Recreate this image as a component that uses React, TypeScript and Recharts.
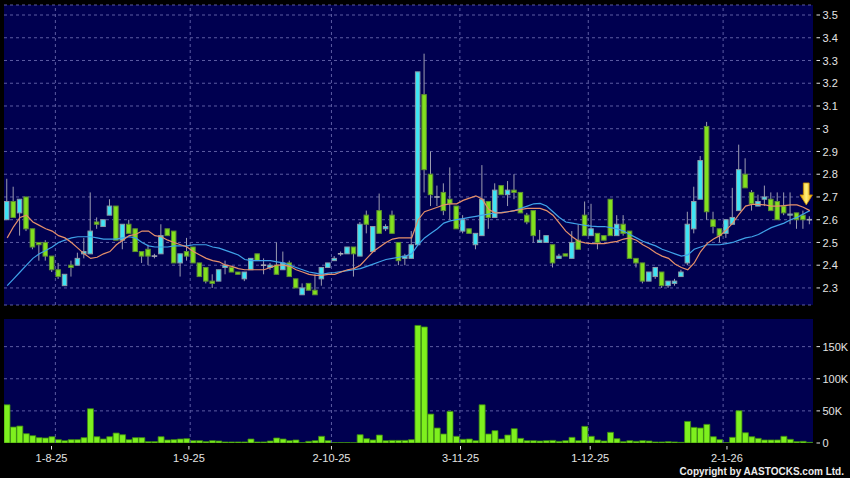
import React from "react";
import {
  Bar,
  CartesianGrid,
  ComposedChart,
  Line,
  ReferenceDot,
  ReferenceLine,
  XAxis,
  YAxis,
} from "recharts";

// daily candles, oldest first (late Jul 2025 -> Jan 2026)
const opens = [
  2.60, 2.68, 2.63, 2.70, 2.56, 2.50, 2.50, 2.44, 2.38, 2.31,
  2.40, 2.40, 2.45, 2.45, 2.59, 2.57, 2.62, 2.66, 2.51, 2.58,
  2.56, 2.46, 2.47, 2.44, 2.45, 2.56, 2.55, 2.41, 2.46, 2.48,
  2.41, 2.39, 2.33, 2.33, 2.39, 2.39, 2.37, 2.34, 2.38, 2.45,
  2.40, 2.39, 2.40, 2.38, 2.41, 2.34, 2.27, 2.32, 2.29, 2.34,
  2.39, 2.42, 2.45, 2.45, 2.48, 2.44, 2.62, 2.46, 2.64, 2.56,
  2.62, 2.50, 2.43, 2.43, 2.49, 3.15, 2.80, 2.70, 2.72, 2.69,
  2.66, 2.55, 2.56, 2.49, 2.53, 2.68, 2.61, 2.75, 2.71, 2.73,
  2.72, 2.62, 2.64, 2.50, 2.50, 2.49, 2.43, 2.45, 2.43, 2.51,
  2.62, 2.53, 2.54, 2.53, 2.69, 2.53, 2.58, 2.55, 2.43, 2.41,
  2.33, 2.35, 2.37, 2.31, 2.32, 2.35, 2.41, 2.56, 2.69, 3.01,
  2.60, 2.56, 2.54, 2.58, 2.64, 2.80, 2.72, 2.66, 2.69, 2.69,
  2.68, 2.66, 2.62, 2.63, 2.62, 2.60,
];
const highs = [
  2.78, 2.745, 2.69, 2.70, 2.56, 2.50, 2.51, 2.44, 2.41, 2.36,
  2.42, 2.455, 2.52, 2.72, 2.61, 2.60, 2.69, 2.66, 2.58, 2.60,
  2.56, 2.46, 2.49, 2.45, 2.58, 2.56, 2.55, 2.45, 2.52, 2.48,
  2.41, 2.39, 2.36, 2.38, 2.42, 2.39, 2.37, 2.37, 2.43, 2.45,
  2.43, 2.41, 2.50, 2.46, 2.42, 2.34, 2.32, 2.32, 2.36, 2.39,
  2.41, 2.44, 2.46, 2.48, 2.48, 2.59, 2.64, 2.57, 2.715, 2.58,
  2.64, 2.50, 2.45, 2.55, 3.25, 3.33, 2.90, 2.75, 2.76, 2.83,
  2.66, 2.62, 2.56, 2.54, 2.84, 2.68, 2.76, 2.75, 2.77, 2.80,
  2.72, 2.63, 2.64, 2.555, 2.53, 2.49, 2.45, 2.45, 2.55, 2.58,
  2.68, 2.67, 2.54, 2.53, 2.69, 2.62, 2.62, 2.55, 2.43, 2.41,
  2.37, 2.39, 2.37, 2.33, 2.34, 2.38, 2.635, 2.745, 2.88, 3.03,
  2.635, 2.56, 2.60, 2.74, 2.93, 2.87, 2.73, 2.71, 2.75, 2.72,
  2.72, 2.72, 2.72, 2.63, 2.64, 2.615,
];
const lows = [
  2.60, 2.61, 2.53, 2.55, 2.47, 2.42, 2.42, 2.37, 2.34, 2.31,
  2.35, 2.40, 2.43, 2.45, 2.56, 2.57, 2.62, 2.51, 2.47, 2.54,
  2.46, 2.41, 2.40, 2.43, 2.45, 2.53, 2.41, 2.35, 2.42, 2.41,
  2.35, 2.32, 2.30, 2.33, 2.36, 2.37, 2.36, 2.33, 2.38, 2.42,
  2.36, 2.38, 2.36, 2.38, 2.35, 2.30, 2.27, 2.29, 2.27, 2.31,
  2.39, 2.42, 2.44, 2.45, 2.35, 2.44, 2.54, 2.46, 2.54, 2.55,
  2.54, 2.40, 2.40, 2.43, 2.49, 2.72, 2.66, 2.66, 2.62, 2.60,
  2.56, 2.54, 2.54, 2.47, 2.53, 2.56, 2.61, 2.71, 2.66, 2.69,
  2.63, 2.58, 2.50, 2.50, 2.50, 2.39, 2.43, 2.44, 2.43, 2.47,
  2.53, 2.53, 2.47, 2.51, 2.53, 2.53, 2.53, 2.43, 2.39, 2.32,
  2.33, 2.34, 2.30, 2.30, 2.31, 2.35, 2.40, 2.54, 2.69, 2.60,
  2.54, 2.50, 2.52, 2.58, 2.64, 2.74, 2.64, 2.66, 2.66, 2.64,
  2.60, 2.62, 2.58, 2.56, 2.56, 2.58,
];
const closes = [
  2.68, 2.61, 2.69, 2.56, 2.48, 2.49, 2.44, 2.38, 2.35, 2.36,
  2.39, 2.43, 2.46, 2.55, 2.58, 2.60, 2.66, 2.51, 2.58, 2.54,
  2.46, 2.44, 2.44, 2.44, 2.53, 2.53, 2.41, 2.45, 2.44, 2.41,
  2.35, 2.33, 2.32, 2.38, 2.40, 2.37, 2.36, 2.37, 2.43, 2.42,
  2.40, 2.40, 2.36, 2.41, 2.35, 2.30, 2.30, 2.29, 2.27, 2.39,
  2.41, 2.43, 2.45, 2.48, 2.45, 2.58, 2.58, 2.57, 2.54, 2.57,
  2.54, 2.42, 2.44, 2.49, 3.25, 2.82, 2.71, 2.70, 2.64, 2.67,
  2.56, 2.60, 2.54, 2.54, 2.69, 2.61, 2.73, 2.71, 2.73, 2.72,
  2.63, 2.59, 2.53, 2.51, 2.53, 2.41, 2.44, 2.44, 2.50, 2.47,
  2.53, 2.56, 2.50, 2.51, 2.53, 2.58, 2.54, 2.43, 2.41, 2.33,
  2.37, 2.39, 2.31, 2.33, 2.33, 2.37, 2.58, 2.68, 2.86, 2.635,
  2.57, 2.53, 2.60, 2.61, 2.82, 2.74, 2.67, 2.68, 2.70, 2.64,
  2.60, 2.63, 2.625, 2.60, 2.60, 2.60,
];
// volume in thousands of shares
const vols = [
  59.5, 24.8, 26.4, 14.5, 11.4, 8.3, 7.8, 9.8, 5.2, 3.6,
  5.2, 5.2, 8.3, 53.3, 9.8, 6.2, 9.8, 15.5, 12.9, 5.2,
  8.3, 8.3, 2.1, 2.1, 9.8, 4.7, 5.2, 6.2, 6.7, 3.6,
  3.6, 2.1, 3.6, 3.1, 1.6, 1.6, 1.6, 1.6, 6.2, 1.6,
  1.6, 3.1, 7.8, 6.2, 3.6, 4.7, 0.5, 2.6, 3.6, 10.4,
  3.6, 0.5, 0.5, 0.5, 0.3, 12.9, 6.7, 4.7, 12.4, 3.6,
  4.1, 4.1, 4.1, 5.2, 183, 180.6, 45, 23.3, 14, 49.2,
  10.4, 5.7, 6.2, 3.6, 59.5, 14, 19.2, 6.2, 12.4, 22.3,
  7.2, 3.6, 3.6, 3.1, 3.6, 4.1, 2.6, 3.6, 8.8, 3.6,
  25.9, 10.4, 4.7, 3.1, 16.6, 6.7, 2.1, 3.6, 2.6, 3.6,
  3.1, 1.6, 1.6, 2.1, 1.6, 1.0, 33.6, 24.3, 23.3, 29,
  9.8, 5.2, 0.5, 8.8, 50.2, 16, 9.8, 7.2, 4.7, 4.7,
  4.7, 10.4, 5.7, 2.1, 2.6, 1.0,
];
// moving averages as drawn (orange = 10 day, blue = 20 day)
const ma10 = [
  2.52, 2.57, 2.61, 2.62, 2.59, 2.575, 2.56, 2.55, 2.53, 2.52,
  2.50, 2.475, 2.45, 2.43, 2.435, 2.45, 2.46, 2.49, 2.51, 2.53,
  2.535, 2.55, 2.55, 2.53, 2.525, 2.51, 2.50, 2.49, 2.48, 2.46,
  2.445, 2.43, 2.42, 2.415, 2.40, 2.395, 2.385, 2.38, 2.38, 2.38,
  2.38, 2.39, 2.40, 2.40, 2.395, 2.38, 2.37, 2.36, 2.355, 2.355,
  2.36, 2.36, 2.37, 2.38, 2.385, 2.40, 2.43, 2.46, 2.48, 2.50,
  2.515, 2.52, 2.52, 2.52, 2.60, 2.635, 2.645, 2.655, 2.665, 2.67,
  2.67, 2.685, 2.695, 2.705, 2.69, 2.645, 2.63, 2.63, 2.635, 2.64,
  2.645, 2.65, 2.65, 2.65, 2.64, 2.62, 2.585, 2.55, 2.525, 2.505,
  2.498, 2.495, 2.495, 2.495, 2.50, 2.505, 2.515, 2.52, 2.51, 2.49,
  2.475, 2.455, 2.44, 2.43, 2.405, 2.39, 2.38, 2.41, 2.46, 2.495,
  2.515, 2.53, 2.555, 2.585, 2.625, 2.66, 2.667, 2.667, 2.665, 2.66,
  2.66, 2.662, 2.665, 2.665, 2.655, 2.64,
];
const ma20 = [
  2.31, 2.34, 2.37, 2.40, 2.43, 2.45, 2.465, 2.48, 2.50, 2.51,
  2.52, 2.525, 2.525, 2.525, 2.52, 2.515, 2.515, 2.515, 2.52, 2.525,
  2.52, 2.50, 2.485, 2.48, 2.48, 2.48, 2.485, 2.485, 2.485, 2.49,
  2.49, 2.49, 2.48, 2.475, 2.465, 2.455, 2.445, 2.425, 2.42, 2.42,
  2.42, 2.42, 2.415, 2.41, 2.40, 2.39, 2.38, 2.37, 2.365, 2.36,
  2.365, 2.368, 2.372, 2.376, 2.38, 2.385, 2.395, 2.405, 2.415, 2.425,
  2.43, 2.435, 2.44, 2.45, 2.49, 2.52, 2.54, 2.56, 2.585, 2.595,
  2.60, 2.605, 2.61, 2.615, 2.62, 2.625, 2.63, 2.632, 2.635, 2.64,
  2.65, 2.66, 2.67, 2.672, 2.66, 2.635, 2.61, 2.59, 2.585, 2.58,
  2.575, 2.572, 2.57, 2.57, 2.565, 2.56, 2.55, 2.535, 2.52, 2.505,
  2.495, 2.485, 2.47, 2.46, 2.45, 2.44, 2.445, 2.47, 2.48, 2.49,
  2.49, 2.49, 2.495, 2.50, 2.51, 2.52, 2.525, 2.535, 2.55, 2.565,
  2.575, 2.585, 2.60, 2.61, 2.625, 2.64,
];

const priceTicks = [2.3, 2.4, 2.5, 2.6, 2.7, 2.8, 2.9, 3.0, 3.1, 3.2, 3.3, 3.4, 3.5];
const volTicks = [0, 50, 100, 150];
const monthLabels = ["1-8-25", "1-9-25", "2-10-25", "3-11-25", "1-12-25", "2-1-26"];
const monthLabelAt = [6.9, 28.3, 50.5, 70.6, 90.8, 112.1];
const monthGridAt = [7.5, 28.5, 50.5, 70.5, 90.5, 111.5];

const rows = opens.map((open, i) => ({
  i,
  open,
  high: highs[i],
  low: lows[i],
  close: closes[i],
  vol: vols[i],
  ma10: ma10[i],
  ma20: ma20[i],
}));

const NAVY = "#000050";
const GRID = "#5c5ca2";
const TEXT = "#e4e4e4";
const FONT = "'Liberation Sans', Arial, sans-serif";
const X_DOMAIN: [number, number] = [-0.5, opens.length - 0.5];

function Candle(props: any) {
  const { x, y, width, height, payload } = props;
  if (!payload) return null;
  const { open, close, high, low } = payload;
  const top = height < 0 ? y + height : y;
  const h = Math.abs(height);
  const k = h / (high - low || 1);
  const cx = x + width / 2;
  const at = (v: number) => top + (high - v) * k;
  const bTop = at(Math.max(open, close));
  const bBot = at(Math.min(open, close));
  const up = close > open;
  return (
    <g>
      <line x1={cx} x2={cx} y1={top} y2={top + h} stroke="#9c9cb0" strokeWidth={1} />
      {close === open ? (
        <line x1={x} x2={x + width} y1={bTop} y2={bTop} stroke="#a8a8b4" strokeWidth={1.6} />
      ) : (
        <rect
          x={x + 0.5}
          y={bTop}
          width={width - 1}
          height={Math.max(bBot - bTop, 1)}
          fill={up ? "#3ee4f4" : "#82e01e"}
          stroke={up ? "#8c9ca8" : "#5e9032"}
          strokeWidth={1}
        />
      )}
    </g>
  );
}

function RightTick({ x, y, payload, vol }: any) {
  const v = payload.value;
  const label = vol ? (v === 0 ? "0" : `${v}K`) : String(v);
  return (
    <g>
      <line x1={x + 3.5} x2={x + 7} y1={y} y2={y} stroke={TEXT} strokeWidth={1} />
      <text x={x + 9.5} y={y + 4.2} fill={TEXT} fontSize={11} fontFamily={FONT}>
        {label}
      </text>
    </g>
  );
}

function DateTick({ x, y, payload }: any) {
  const idx = monthLabelAt.indexOf(payload.value);
  return (
    <g>
      <line x1={x} x2={x} y1={y + 3} y2={y + 6.5} stroke={TEXT} strokeWidth={1} />
      <text x={x} y={y + 18.5} textAnchor="middle" fill={TEXT} fontSize={11} fontFamily={FONT}>
        {monthLabels[idx] ?? ""}
      </text>
    </g>
  );
}

function Arrow({ cx, cy }: any) {
  if (cx == null || cy == null) return null;
  const path = `M${cx - 2.9},${cy - 22} L${cx + 2.9},${cy - 22} L${cx + 2.9},${cy - 10} L${cx + 6.2},${cy - 10} L${cx},${cy} L${cx - 6.2},${cy - 10} L${cx - 2.9},${cy - 10} Z`;
  return (
    <g>
      <defs>
        <linearGradient id="arrowFill" x1="0" x2="1" y1="0" y2="0">
          <stop offset="0" stopColor="#e8a400" />
          <stop offset="0.5" stopColor="#fff07a" />
          <stop offset="1" stopColor="#e8a400" />
        </linearGradient>
      </defs>
      <path d={path} fill="url(#arrowFill)" stroke="#c88a00" strokeWidth={0.8} />
    </g>
  );
}

export default function App() {
  return (
    <div
      style={{
        position: "absolute",
        left: 0,
        top: 0,
        width: 850,
        height: 478,
        background: "#000",
        overflow: "hidden",
      }}
    >
      <div style={{ position: "absolute", left: 0, top: 0 }}>
        <ComposedChart width={850} height={310} data={rows} margin={{ top: 5, right: 0, bottom: 5, left: 4 }}>
          <CartesianGrid vertical={false} fill={NAVY} stroke={GRID} strokeDasharray="3 3" />
          <XAxis type="number" dataKey="i" domain={X_DOMAIN} hide allowDataOverflow />
          <YAxis
            orientation="right"
            width={37}
            domain={[2.225, 3.544]}
            ticks={priceTicks}
            interval={0}
            axisLine={false}
            tickLine={false}
            tickSize={0}
            tickMargin={0}
            allowDataOverflow
            tick={<RightTick />}
          />
          {monthGridAt.map((g) => (
            <ReferenceLine key={g} x={g} stroke={GRID} strokeDasharray="3 3" />
          ))}
          <Bar
            dataKey={(d: any) => [d.low, d.high]}
            barSize={5.5}
            shape={<Candle />}
            isAnimationActive={false}
          />
          <Line type="linear" dataKey="ma20" stroke="#3fa2e8" strokeWidth={1.2} dot={false} isAnimationActive={false} />
          <Line type="linear" dataKey="ma10" stroke="#e6906a" strokeWidth={1.2} dot={false} isAnimationActive={false} />
          <ReferenceDot x={124.45} y={2.665} r={0} shape={<Arrow />} ifOverflow="visible" />
        </ComposedChart>
      </div>
      <div style={{ position: "absolute", left: 0, top: 310 }}>
        <ComposedChart width={850} height={168} data={rows} margin={{ top: 9, right: 0, bottom: 0, left: 4 }}>
          <CartesianGrid vertical={false} fill={NAVY} stroke={GRID} strokeDasharray="3 3" horizontalValues={[50, 100, 150]} />
          <XAxis
            type="number"
            dataKey="i"
            domain={X_DOMAIN}
            ticks={monthLabelAt}
            interval={0}
            height={35}
            axisLine={false}
            tickLine={false}
            tickSize={0}
            tickMargin={0}
            allowDataOverflow
            tick={<DateTick />}
          />
          <YAxis
            orientation="right"
            width={37}
            domain={[0, 193]}
            ticks={volTicks}
            interval={0}
            axisLine={false}
            tickLine={false}
            tickSize={0}
            tickMargin={0}
            allowDataOverflow
            tick={<RightTick vol />}
          />
          {monthGridAt.map((g) => (
            <ReferenceLine key={g} x={g} stroke={GRID} strokeDasharray="3 3" />
          ))}
          <Bar dataKey="vol" barSize={6} fill="#7ef01e" stroke="#3c8a10" strokeWidth={0.8} isAnimationActive={false} />
        </ComposedChart>
      </div>
      <div
        style={{
          position: "absolute",
          right: 6,
          top: 466,
          fontFamily: FONT,
          fontSize: 10,
          lineHeight: "12px",
          fontWeight: "bold",
          letterSpacing: 0,
          color: "#ececec",
          whiteSpace: "nowrap",
        }}
      >
        Copyright by AASTOCKS.com Ltd.
      </div>
    </div>
  );
}
